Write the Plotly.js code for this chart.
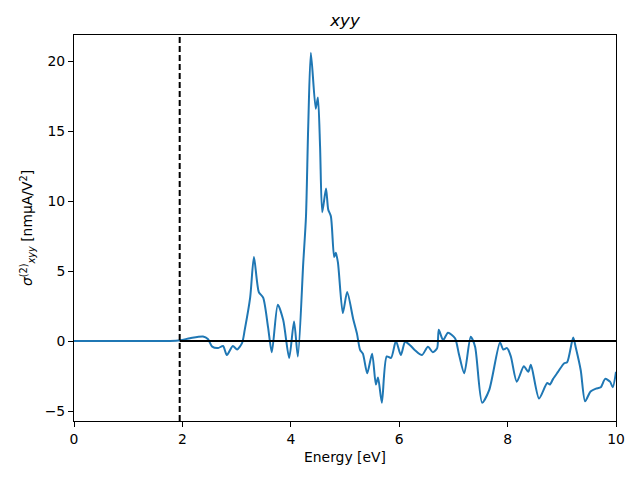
<!DOCTYPE html>
<html><head><meta charset="utf-8">
<script src="https://cdn.plot.ly/plotly-3.0.1.min.js"></script>
<style>html,body{margin:0;padding:0;background:#fff}#plot{width:640px;height:480px}</style>
</head><body><div id="plot"></div>
<script>
const energy = [0, 0.5, 1.0, 1.5, 1.77, 1.96, 2.14, 2.38, 2.47, 2.55, 2.66, 2.75, 2.82, 2.93, 3.01, 3.10, 3.15, 3.25, 3.32, 3.41, 3.49, 3.58, 3.65, 3.76, 3.86, 3.97, 4.06, 4.13, 4.23, 4.28, 4.32, 4.37, 4.46, 4.50, 4.54, 4.58, 4.65, 4.69, 4.74, 4.80, 4.83, 4.87, 4.96, 5.04, 5.15, 5.22, 5.28, 5.33, 5.41, 5.50, 5.57, 5.61, 5.68, 5.77, 5.85, 5.94, 6.03, 6.11, 6.20, 6.29, 6.42, 6.53, 6.62, 6.70, 6.73, 6.81, 6.90, 7.03, 7.10, 7.20, 7.32, 7.40, 7.53, 7.66, 7.86, 7.92, 7.99, 8.06, 8.17, 8.30, 8.38, 8.43, 8.58, 8.73, 8.78, 8.84, 8.93, 9.04, 9.10, 9.21, 9.26, 9.35, 9.43, 9.53, 9.63, 9.72, 9.80, 9.89, 9.94, 10.0];
const sigma = [0, 0, 0, 0, 0.01, 0.06, 0.2, 0.33, 0.15, -0.4, -0.5, -0.35, -1.0, -0.35, -0.6, -0.15, 0.8, 3.1, 6.0, 3.5, 3.1, 1.0, -0.8, 2.6, 1.5, -1.2, 1.4, -1.1, 5.6, 8.9, 15.1, 20.6, 16.6, 17.4, 13.9, 9.2, 10.9, 9.4, 8.9, 6.0, 6.3, 5.6, 2.0, 3.5, 1.6, 0.55, -0.65, -0.9, -2.3, -0.9, -3.1, -2.6, -4.4, -1.1, -1.2, 0.0, -1.0, -0.05, -0.3, -0.65, -1.0, -0.4, -0.8, -0.5, 0.8, 0.07, 0.6, 0.2, -0.9, -2.3, 0.3, -0.4, -4.4, -3.5, -0.1, -0.6, -0.5, -1.1, -2.9, -1.8, -2.2, -1.7, -4.1, -3.0, -3.1, -2.7, -2.2, -1.6, -1.5, 0.25, -0.5, -2.1, -4.3, -3.6, -3.4, -3.3, -2.7, -2.9, -3.3, -2.2];
const gapEnergy = 1.95;
const zeroLevel = 0;
const xMax = 10;
const xTicks = [0, 2, 4, 6, 8, 10];
const yTicks = [-5, 0, 5, 10, 15, 20];

const font = {family: 'DejaVu Sans', size: 13.9, color: '#000'};
const trace = {x: energy, y: sigma, type: 'scatter', mode: 'lines',
  line: {color: '#1f77b4', width: 2, shape: 'spline', smoothing: 0.7}, hoverinfo: 'none'};
const axisCommon = {showline: true, linecolor: '#000', linewidth: 1, mirror: true,
  ticks: 'outside', ticklen: 5, tickwidth: 1, tickcolor: '#000', showgrid: false, zeroline: false,
  tickfont: font};
const layout = {
  width: 640, height: 480, paper_bgcolor: '#fff', plot_bgcolor: '#fff',
  margin: {l: 74, r: 24, t: 35, b: 59}, showlegend: false, font: font,
  title: {text: '<i>xyy</i>', font: {family: 'DejaVu Sans', size: 16.7, color: '#000'}, xref: 'paper', x: 0.5, xanchor: 'center', yref: 'container', y: 0.958, yanchor: 'middle'},
  xaxis: Object.assign({}, axisCommon, {range: [0, xMax], tickvals: xTicks, ticktext: xTicks.map(String),
    title: {text: 'Energy [eV]', font: font, standoff: 6}}),
  yaxis: Object.assign({}, axisCommon, {range: [-5.71, 21.86], tickvals: yTicks, ticktext: yTicks.map(v => v < 0 ? '\u2212' + Math.abs(v) : String(v)),
    title: {text: '<i>σ</i><sup>(2)</sup><sub><i>xyy</i></sub> [nmμA/V<sup>2</sup>]', font: font, standoff: 8}}),
  shapes: [
    {type: 'line', xref: 'x', yref: 'y', x0: gapEnergy, x1: xMax, y0: zeroLevel, y1: zeroLevel, line: {color: '#000', width: 2}, layer: 'above'},
    {type: 'line', xref: 'x', yref: 'paper', x0: gapEnergy, x1: gapEnergy, y0: 0, y1: 1, line: {color: '#000', width: 2, dash: '6px,3px'}, layer: 'above'}
  ]
};
Plotly.newPlot('plot', [trace], layout, {staticPlot: true, displayModeBar: false});
</script></body></html>
